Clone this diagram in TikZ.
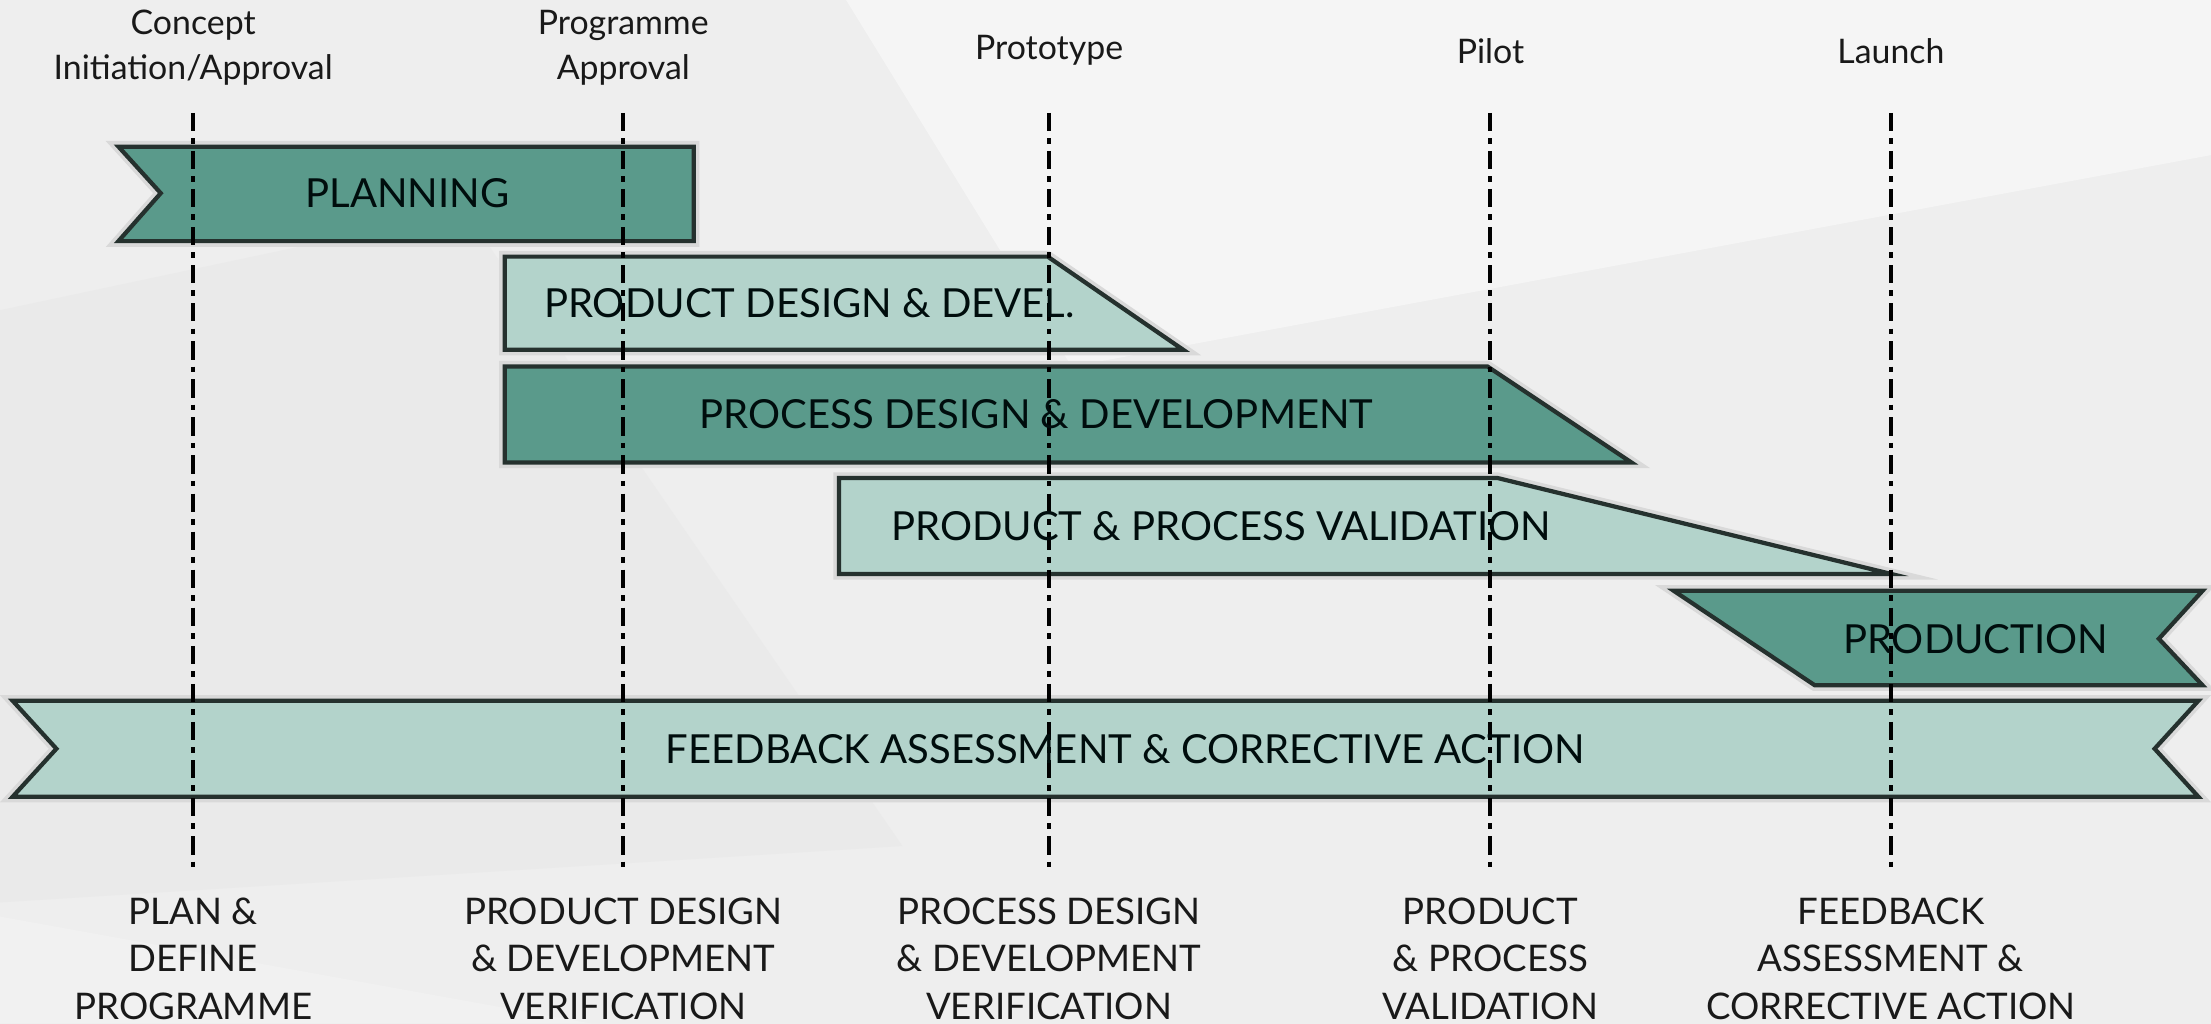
\documentclass[tikz,border=0pt]{standalone}
\usepackage{fontspec}
\setmainfont{Lato}
\usetikzlibrary{positioning}
\definecolor{tealdark}{HTML}{5A9A8B}
\definecolor{teallight}{HTML}{B3D3CB}
\definecolor{barline}{HTML}{25312E}
\definecolor{bgrey}{HTML}{EEEEEE}
\definecolor{bfacet}{HTML}{F5F5F5}
\definecolor{bshade}{HTML}{EAEAEA}
\begin{document}
\begin{tikzpicture}[x=0.5pt,y=-0.5pt,
  bar/.style={draw=barline,line width=1.5pt,line join=miter,preaction={draw=black!15,line width=4pt}},
  darkbar/.style={bar,fill=tealdark},
  lightbar/.style={bar,fill=teallight},
  bartext/.style={font=\fontsize{14.2}{16}\selectfont,text=black!90!teal},
  gate/.style={line width=1.4pt,dash pattern=on 6.5pt off 2.5pt on 2pt off 2.5pt},
  milestone/.style={font=\fontsize{12}{16}\selectfont,align=center,text=black!90},
  phase/.style={font=\fontsize{13}{17}\selectfont,align=center,text=black!90}]
\useasboundingbox (0,0) rectangle (1568,726);
\fill[bgrey] (0,0) rectangle (1568,726);
\fill[bfacet] (600,0) -- (1568,0) -- (1568,110) -- (760,260) -- cycle;
\fill[bshade] (0,220) -- (330,150) -- (640,600) -- (0,640) -- cycle;
\fill[bfacet!50!bgrey] (0,650) -- (420,726) -- (0,726) -- cycle;

\foreach \x/\n in {137/a,442/b,744/c,1057/d,1341/e}{
  \coordinate (top\n) at (\x,80);
  \coordinate (bot\n) at (\x,616);
}

\draw[darkbar] (84,104) -- (492,104) -- (492,171) -- (84,171) -- (114,137) -- cycle;
\draw[lightbar] (358,182) -- (743,182) -- (839,248) -- (358,248) -- cycle;
\draw[darkbar] (358,260) -- (1055,260) -- (1157,328) -- (358,328) -- cycle;
\draw[lightbar] (595,339) -- (1062,339) -- (1341,407) -- (595,407) -- cycle;
\draw[darkbar] (1187,419) -- (1562,419) -- (1531,453) -- (1562,486) -- (1287,486) -- cycle;
\draw[lightbar] (9,497) -- (1559,497) -- (1528,531) -- (1559,565) -- (9,565) -- (40,531) -- cycle;

\foreach \n in {a,b,c,d,e}
  \draw[gate] (top\n) -- (bot\n);

\node[bartext] (planning) at (289,137) {PLANNING};
\node[bartext] (proddes) at (574,215) {PRODUCT DESIGN \& DEVEL.};
\node[bartext] (procdes) at (735,294) {PROCESS DESIGN \& DEVELOPMENT};
\node[bartext] (valid) at (866,373) {PRODUCT \& PROCESS VALIDATION};
\node[bartext] (prod) at (1401,453) {PRODUCTION};
\node[bartext] (feedback) at (798,531) {FEEDBACK ASSESSMENT \& CORRECTIVE ACTION};

\node[milestone] (concept) at (137,34) {Concept\\Initiation/Approval};
\node[milestone] (progapp) at (442,34) {Programme\\Approval};
\node[milestone] (proto) at (744,36) {Prototype};
\node[milestone] (pilot) at (1057,36) {Pilot};
\node[milestone] (launch) at (1341,36) {Launch};

\node[phase] (plan) at (137,680) {PLAN \&\\DEFINE\\PROGRAMME};
\node[phase] (pdver) at (442,680) {PRODUCT DESIGN\\\& DEVELOPMENT\\VERIFICATION};
\node[phase] (prver) at (744,680) {PROCESS DESIGN\\\& DEVELOPMENT\\VERIFICATION};
\node[phase] (ppval) at (1057,680) {PRODUCT\\\& PROCESS\\VALIDATION};
\node[phase] (fbca) at (1341,680) {FEEDBACK\\ASSESSMENT \&\\CORRECTIVE ACTION};
\end{tikzpicture}
\end{document}
